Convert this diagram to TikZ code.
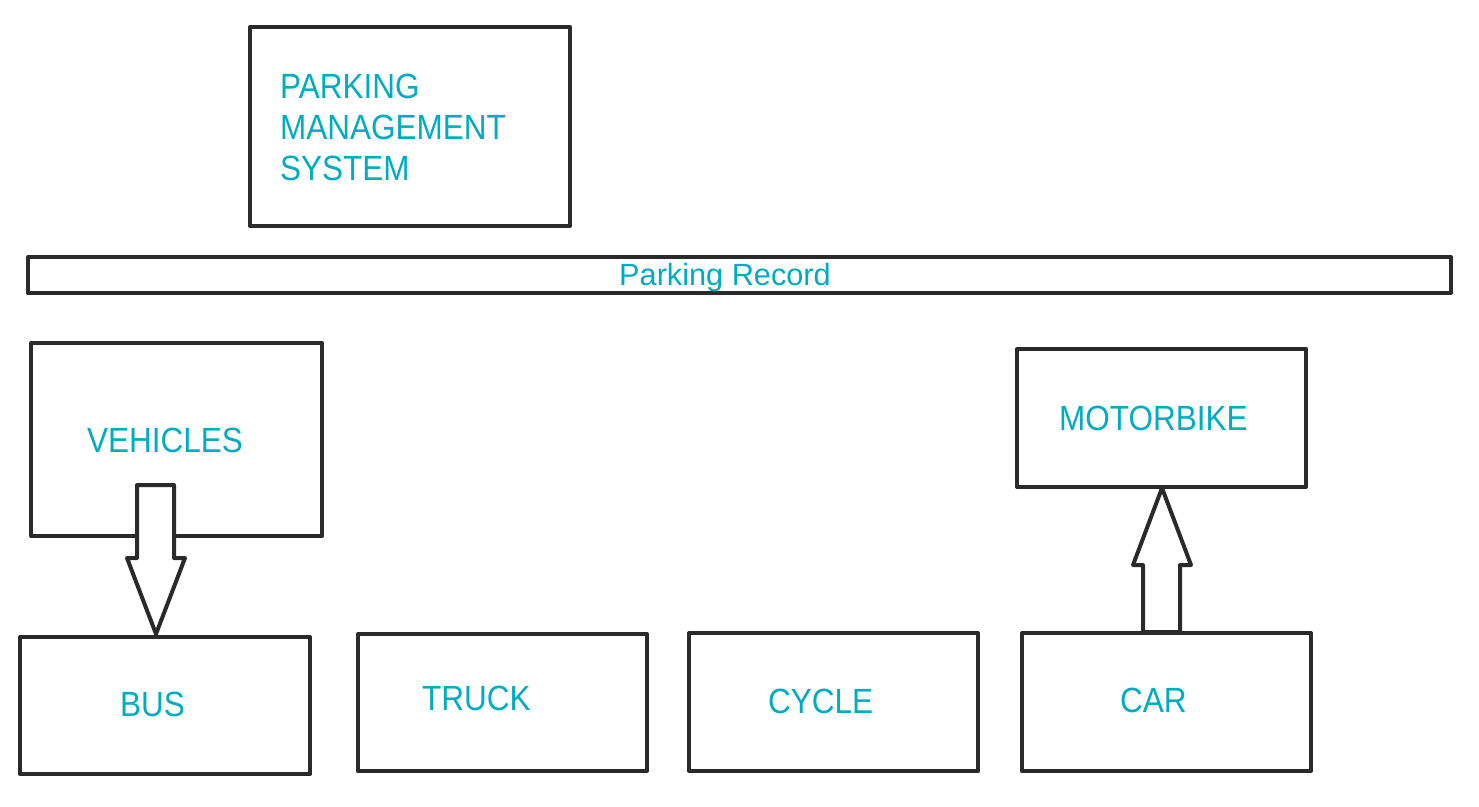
\documentclass[tikz,border=0pt]{standalone}
\usepackage{fontspec}
\setmainfont{Liberation Sans}
\newfontfamily\capsfont[FakeStretch=0.9]{Liberation Sans}
\usetikzlibrary{fit}
\definecolor{inkgray}{HTML}{2A2A2A}
\definecolor{labelcyan}{HTML}{00ACC1}
\newcommand{\boxAt}[5]{\node[box, fit={(#2,#3) (#4,#5)}] (#1) {}}
\tikzset{
	box/.style={draw=inkgray, line width=4pt, inner sep=0pt, line join=round},
	lbl/.style={text=labelcyan, font=\capsfont\fontsize{35}{41}\selectfont, inner sep=0pt, anchor=base west},
	blockarrow/.style={draw=inkgray, fill=white, line width=4pt, line join=round}
}

\begin{document}
\begin{tikzpicture}[x=1pt,y=-1pt]
		\useasboundingbox (0,0) rectangle (1479,806);
		\begin{scope}
			\boxAt{pms}{250}{27}{570}{226};
			\boxAt{record}{28}{257}{1451}{293};
			\boxAt{vehicles}{31}{343}{322}{536};
			\boxAt{motorbike}{1017}{349}{1306}{487};
			\boxAt{bus}{20}{637}{310}{774};
			\boxAt{truck}{358}{634}{647}{771};
			\boxAt{cycle}{689}{633}{978}{771};
			\boxAt{car}{1022}{633}{1311}{771};
		\end{scope}
		\node[lbl, align=left, anchor=north west] (pmsText) at (280,74) {PARKING\\MANAGEMENT\\SYSTEM};
		\node[text=labelcyan, font=\fontsize{30.7}{36}\selectfont, inner sep=0pt, anchor=base] (recordText) at (725,285) {Parking Record};
		\node[lbl] (vehiclesText) at (87,452) {VEHICLES};
		\node[lbl] (motorbikeText) at (1059,430) {MOTORBIKE};
		\node[lbl] (busText) at (120,716) {BUS};
		\node[lbl] (truckText) at (422,710) {TRUCK};
		\node[lbl] (cycleText) at (768,713) {CYCLE};
		\node[lbl] (carText) at (1120,712) {CAR};
		% block arrows
		\coordinate (busTip) at (156,634);
		\coordinate (bikeTip) at (1162,488);
		\draw[blockarrow] (busTip) -- ++(-29,-76) -- ++(10,0) -- ++(0,-73) -- ++(37,0)
			-- ++(0,73) -- ++(11,0) -- cycle;
		\draw[blockarrow] (bikeTip) -- ++(29,77) -- ++(-11,0) -- ++(0,67)
			-- ++(-37,0) -- ++(0,-67) -- ++(-10,0) -- cycle;
	\end{tikzpicture}
\end{document}
